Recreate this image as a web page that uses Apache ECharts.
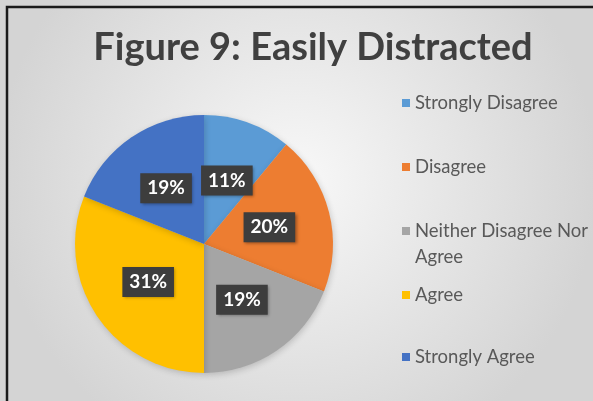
<!DOCTYPE html>
<html><head><meta charset="utf-8">
<script src="https://cdn.jsdelivr.net/npm/echarts@6/dist/echarts.min.js"></script>
<style>html,body{margin:0;padding:0;background:#fff}#c{width:593px;height:401px}</style>
</head><body><div id="c"></div>
<script>
const titleText = "Figure 9: Easily Distracted";
const categories = ["Strongly Disagree", "Disagree", "Neither Disagree Nor Agree", "Agree", "Strongly Agree"];
const legendLabels = ["Strongly Disagree", "Disagree", " \nNeither Disagree Nor\nAgree", "Agree", "Strongly Agree"];
const values = [11, 20, 19, 31, 19];
const colors = ["#5B9BD5", "#ED7D31", "#A5A5A5", "#FFC000", "#4472C4"];

const legendCenters = [103, 167, 231, 295, 357];
const legends = categories.map((name, i) => {
  const lines = legendLabels[i].split("\n").length;
  const lh = lines > 1 ? 26 : 20;
  return {
    orient: 'vertical', left: 402, top: legendCenters[i] - lh * lines / 2, padding: 0,
    itemWidth: 8, itemHeight: 8, itemGap: 0, icon: 'rect',
    data: [name],
    formatter: () => legendLabels[i],
    textStyle: { fontFamily: 'Lato', fontSize: 18.5, color: '#595959', lineHeight: lh }
  };
});

const chart = echarts.init(document.getElementById('c'), null, { renderer: 'canvas' });
chart.setOption({
  backgroundColor: {
    type: 'radial', x: 0.5, y: 0.45, r: 0.75,
    colorStops: [{ offset: 0, color: '#f8f8f8' }, { offset: 1, color: '#d4d4d4' }]
  },
  animation: false,
  title: {
    text: titleText, top: 24, left: 308, textAlign: 'center',
    textStyle: { fontFamily: 'Lato', fontWeight: 'bold', fontSize: 38, color: '#404040' }
  },
  legend: legends,
  color: colors,
  graphic: [{
    type: 'polyline', silent: true,
    shape: { points: [[7, 401], [7, 7], [593, 7]] },
    style: { stroke: '#1a1a1a', lineWidth: 2.5, fill: null }
  }],
  series: [{
    type: 'pie', center: [204, 244], radius: 129, startAngle: 90, clockwise: true,
    data: categories.map((n, i) => ({ name: n, value: values[i] })),
    itemStyle: { borderWidth: 0, shadowColor: 'rgba(0,0,0,0.18)', shadowBlur: 6, shadowOffsetX: 1, shadowOffsetY: 2 },
    label: {
      position: 'inside', formatter: '{c}%', color: '#fff', fontFamily: 'Lato', fontWeight: 'bold', fontSize: 19,
      backgroundColor: '#3d3d3d', padding: [6, 7, 5, 7],
      shadowColor: 'rgba(0,0,0,0.35)', shadowBlur: 3, shadowOffsetX: 1.5, shadowOffsetY: 1.5
    },
    labelLine: { show: false },
    emphasis: { disabled: true }
  }]
});
</script></body></html>
